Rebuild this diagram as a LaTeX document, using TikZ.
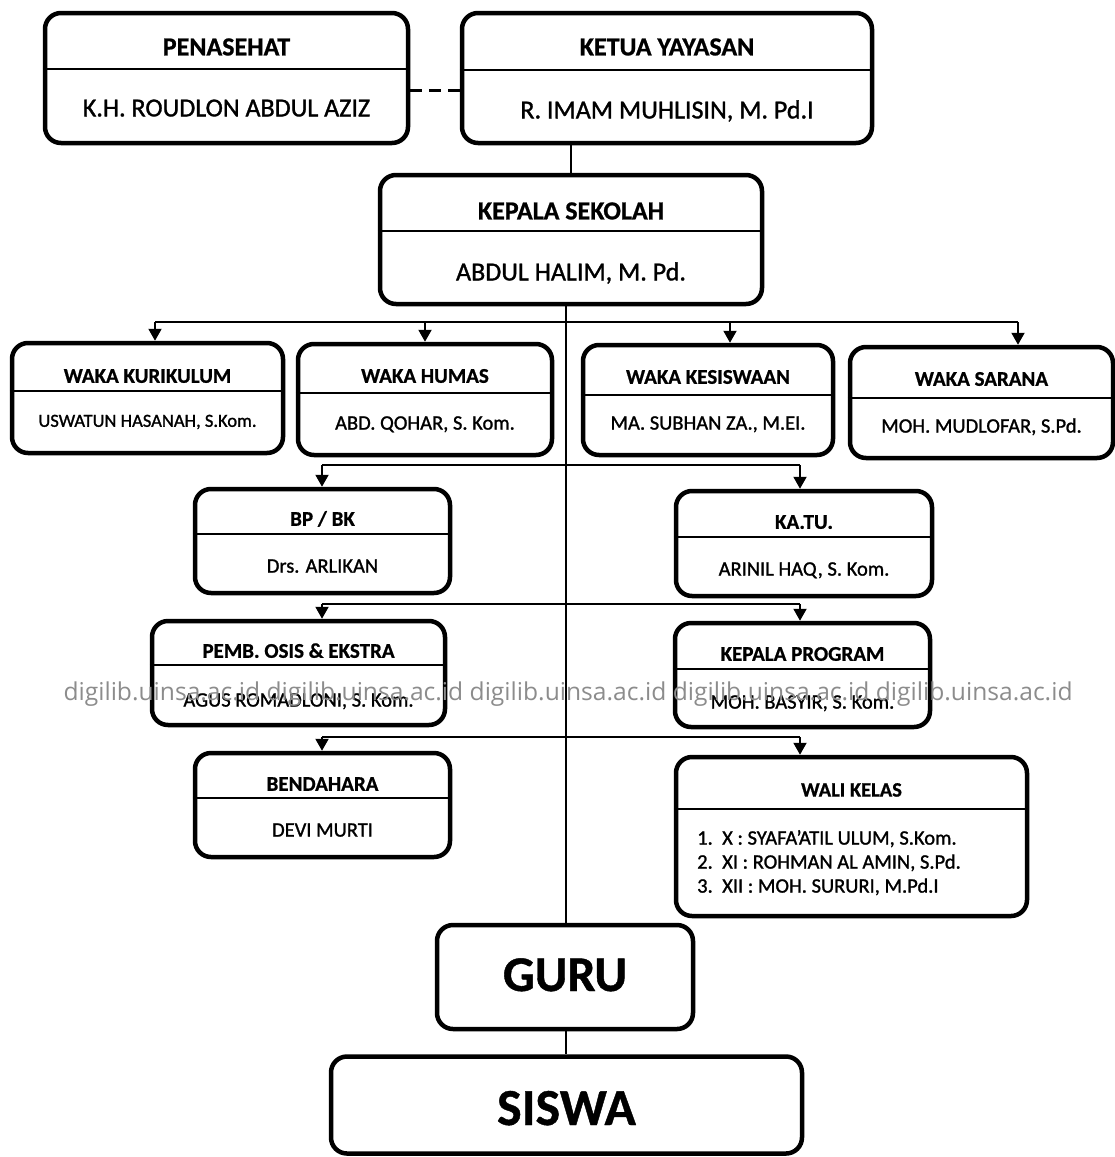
\documentclass[tikz,border=0pt]{standalone}
\usepackage{fontspec}
\setmainfont{Carlito}[UprightFeatures={FakeBold=1.2}, BoldFeatures={FakeBold=0.8}]
\newfontfamily\wmfont{Open Sans}
\usetikzlibrary{arrows.meta}
\newcommand\fs[1]{\fontsize{#1}{#1}\selectfont}
\tikzset{
  box/.style={draw, line width=4.5pt, rounded corners=16pt, fill=white, inner sep=0pt},
  divl/.style={line width=2.5pt},
  conn/.style={line width=2pt},
  arr/.style={line width=2pt, -{Triangle[width=13pt,length=12pt]}},
  nm/.style={anchor=base, inner sep=0pt},
}
% box: name, x1, y1, x2, y2, divider y
\newcommand\bx[6]{%
  \node[box, minimum width={(#4-#2)*1pt}, minimum height={(#5-#3)*1pt}] (#1) at ({(#2+#4)/2},{(#3+#5)/2}) {};
  \draw[divl] (#1.west |- 0,#6) -- (#1.east |- 0,#6);}
% label: name, box, baseline y, font, text
\newcommand\lbl[5]{\node[nm, font=#4] (#1) at (#2.center |- 0,#3) {#5};}
\begin{document}
\begin{tikzpicture}[x=1pt, y=-1pt]
\useasboundingbox (0,0) rectangle (1115,1157);
% top
\bx{pen}{45}{13}{408}{143}{69}
\lbl{pent}{pen}{55.4}{\bfseries\fs{26}}{PENASEHAT}
\lbl{penn}{pen}{116.4}{\fs{26}}{K.H. ROUDLON ABDUL AZIZ}
\bx{ket}{462}{13}{872}{143}{70}
\lbl{kett}{ket}{55.4}{\bfseries\fs{26}}{KETUA YAYASAN}
\lbl{ketn}{ket}{118.4}{\fs{26}}{R. IMAM MUHLISIN, M. Pd.I}
\bx{kep}{380}{175}{762}{304}{231}
\lbl{kept}{kep}{219.4}{\bfseries\fs{26}}{KEPALA SEKOLAH}
\lbl{kepn}{kep}{280.4}{\fs{26}}{ABDUL HALIM, M. Pd.}
% waka row
\bx{wk}{12}{343}{283}{453}{391}
\lbl{wkt}{wk}{382.8}{\bfseries\fs{21}}{WAKA KURIKULUM}
\lbl{wkn}{wk}{426.8}{\fs{18.5}}{USWATUN HASANAH, S.Kom.}
\bx{wh}{298}{344}{552}{455}{393}
\lbl{wht}{wh}{382.8}{\bfseries\fs{21}}{WAKA HUMAS}
\lbl{whn}{wh}{429.6}{\fs{20.5}}{ABD. QOHAR, S. Kom.}
\bx{wks}{583}{345}{833}{455}{395}
\lbl{wkst}{wks}{383.8}{\bfseries\fs{21}}{WAKA KESISWAAN}
\lbl{wksn}{wks}{429.6}{\fs{20.5}}{MA. SUBHAN ZA., M.EI.}
\bx{ws}{850}{347}{1113}{458}{398}
\lbl{wst}{ws}{385.8}{\bfseries\fs{21}}{WAKA SARANA}
\lbl{wsn}{ws}{432.6}{\fs{20.5}}{MOH. MUDLOFAR, S.Pd.}
% left column
\bx{bp}{195}{489}{450}{593}{534}
\lbl{bpt}{bp}{525.8}{\bfseries\fs{21}}{BP / BK}
\lbl{bpn}{bp}{572.6}{\fs{20.5}}{Drs. ARLIKAN}
\bx{pemb}{152}{621}{445}{725}{665}
\lbl{pembt}{pemb}{657.8}{\bfseries\fs{21}}{PEMB. OSIS \& EKSTRA}
\lbl{pembn}{pemb}{706.6}{\fs{20.5}}{AGUS ROMADLONI, S. Kom.}
\bx{bend}{195}{753}{450}{857}{798}
\lbl{bendt}{bend}{790.8}{\bfseries\fs{21}}{BENDAHARA}
\lbl{bendn}{bend}{836.6}{\fs{20.5}}{DEVI MURTI}
% right column
\bx{katu}{676}{491}{932}{596}{537}
\lbl{katut}{katu}{528.8}{\bfseries\fs{21}}{KA.TU.}
\lbl{katun}{katu}{575.6}{\fs{20.5}}{ARINIL HAQ, S. Kom.}
\bx{kprog}{675}{623}{930}{727}{669}
\lbl{kprogt}{kprog}{660.8}{\bfseries\fs{21}}{KEPALA PROGRAM}
\lbl{kprogn}{kprog}{708.6}{\fs{20.5}}{MOH. BASYIR, S. Kom.}
\bx{wali}{676}{757}{1027}{916}{809}
\lbl{walit}{wali}{796.6}{\bfseries\fs{20.5}}{WALI KELAS}
\node[nm, anchor=base west, font=\fs{20.5}] (w1n) at (697,844.6) {1.};
\node[nm, anchor=base west, font=\fs{20.5}] (w2n) at (697,868.6) {2.};
\node[nm, anchor=base west, font=\fs{20.5}] (w3n) at (697,892.6) {3.};
\node[nm, anchor=base west, font=\fs{20.5}] (w1) at (722,844.6) {X : SYAFA’ATIL ULUM, S.Kom.};
\node[nm, anchor=base west, font=\fs{20.5}] (w2) at (722,868.6) {XI : ROHMAN AL AMIN, S.Pd.};
\node[nm, anchor=base west, font=\fs{20.5}] (w3) at (722,892.6) {XII : MOH. SURURI, M.Pd.I};
% bottom
\node[box, minimum width=256pt, minimum height=104pt] (guru) at (565,977) {};
\node[nm, font=\bfseries\fs{50}] (gurut) at (guru.center |- 0,991) {GURU};
\node[box, minimum width=471pt, minimum height=97pt] (siswa) at (566.5,1105) {};
\node[nm, font=\bfseries\fs{52}] (siswat) at (siswa.center |- 0,1125) {SISWA};
% connectors
\coordinate (spine) at (566,0);
\draw[line width=3pt, dash pattern=on 12pt off 7pt] (pen.east |- 0,90) -- (ket.west |- 0,90);
\draw[conn] (ket.south -| kep.north) -- (kep.north);
\draw[conn] (kep.south -| spine) -- (guru.north -| spine);
\draw[conn] (guru.south -| spine) -- (siswa.north -| spine);
% bus 1
\coordinate (b1L) at (155,322);
\coordinate (b1R) at (1018,322);
\coordinate (b1K) at (730,322);
\draw[conn] (b1L) -- (b1R);
\draw[arr] (b1L) -- (wk.north -| b1L);
\draw[arr] (wh.north |- b1L) -- (wh.north);
\draw[arr] (b1K) -- (wks.north -| b1K);
\draw[arr] (b1R) -- (ws.north -| b1R);
% bus 2-4
\coordinate (b2L) at (322,465);
\coordinate (b2R) at (800,465);
\draw[conn] (b2L) -- (b2R);
\draw[arr] (b2L) -- (bp.north -| b2L);
\draw[arr] (b2R) -- (katu.north -| b2R);
\coordinate (b3L) at (322,604);
\coordinate (b3R) at (800,604);
\draw[conn] (b3L) -- (b3R);
\draw[arr] (b3L) -- (pemb.north -| b3L);
\draw[arr] (b3R) -- (kprog.north -| b3R);
\coordinate (b4L) at (322,737);
\coordinate (b4R) at (800,737);
\draw[conn] (b4L) -- (b4R);
\draw[arr] (b4L) -- (bend.north -| b4L);
\draw[arr] (b4R) -- (wali.north -| b4R);
% watermark
\node[nm, font=\wmfont\fs{24.6}, text=black!45] (wm) at (568,700) {digilib.uinsa.ac.id digilib.uinsa.ac.id digilib.uinsa.ac.id digilib.uinsa.ac.id digilib.uinsa.ac.id};
\end{tikzpicture}
\end{document}
